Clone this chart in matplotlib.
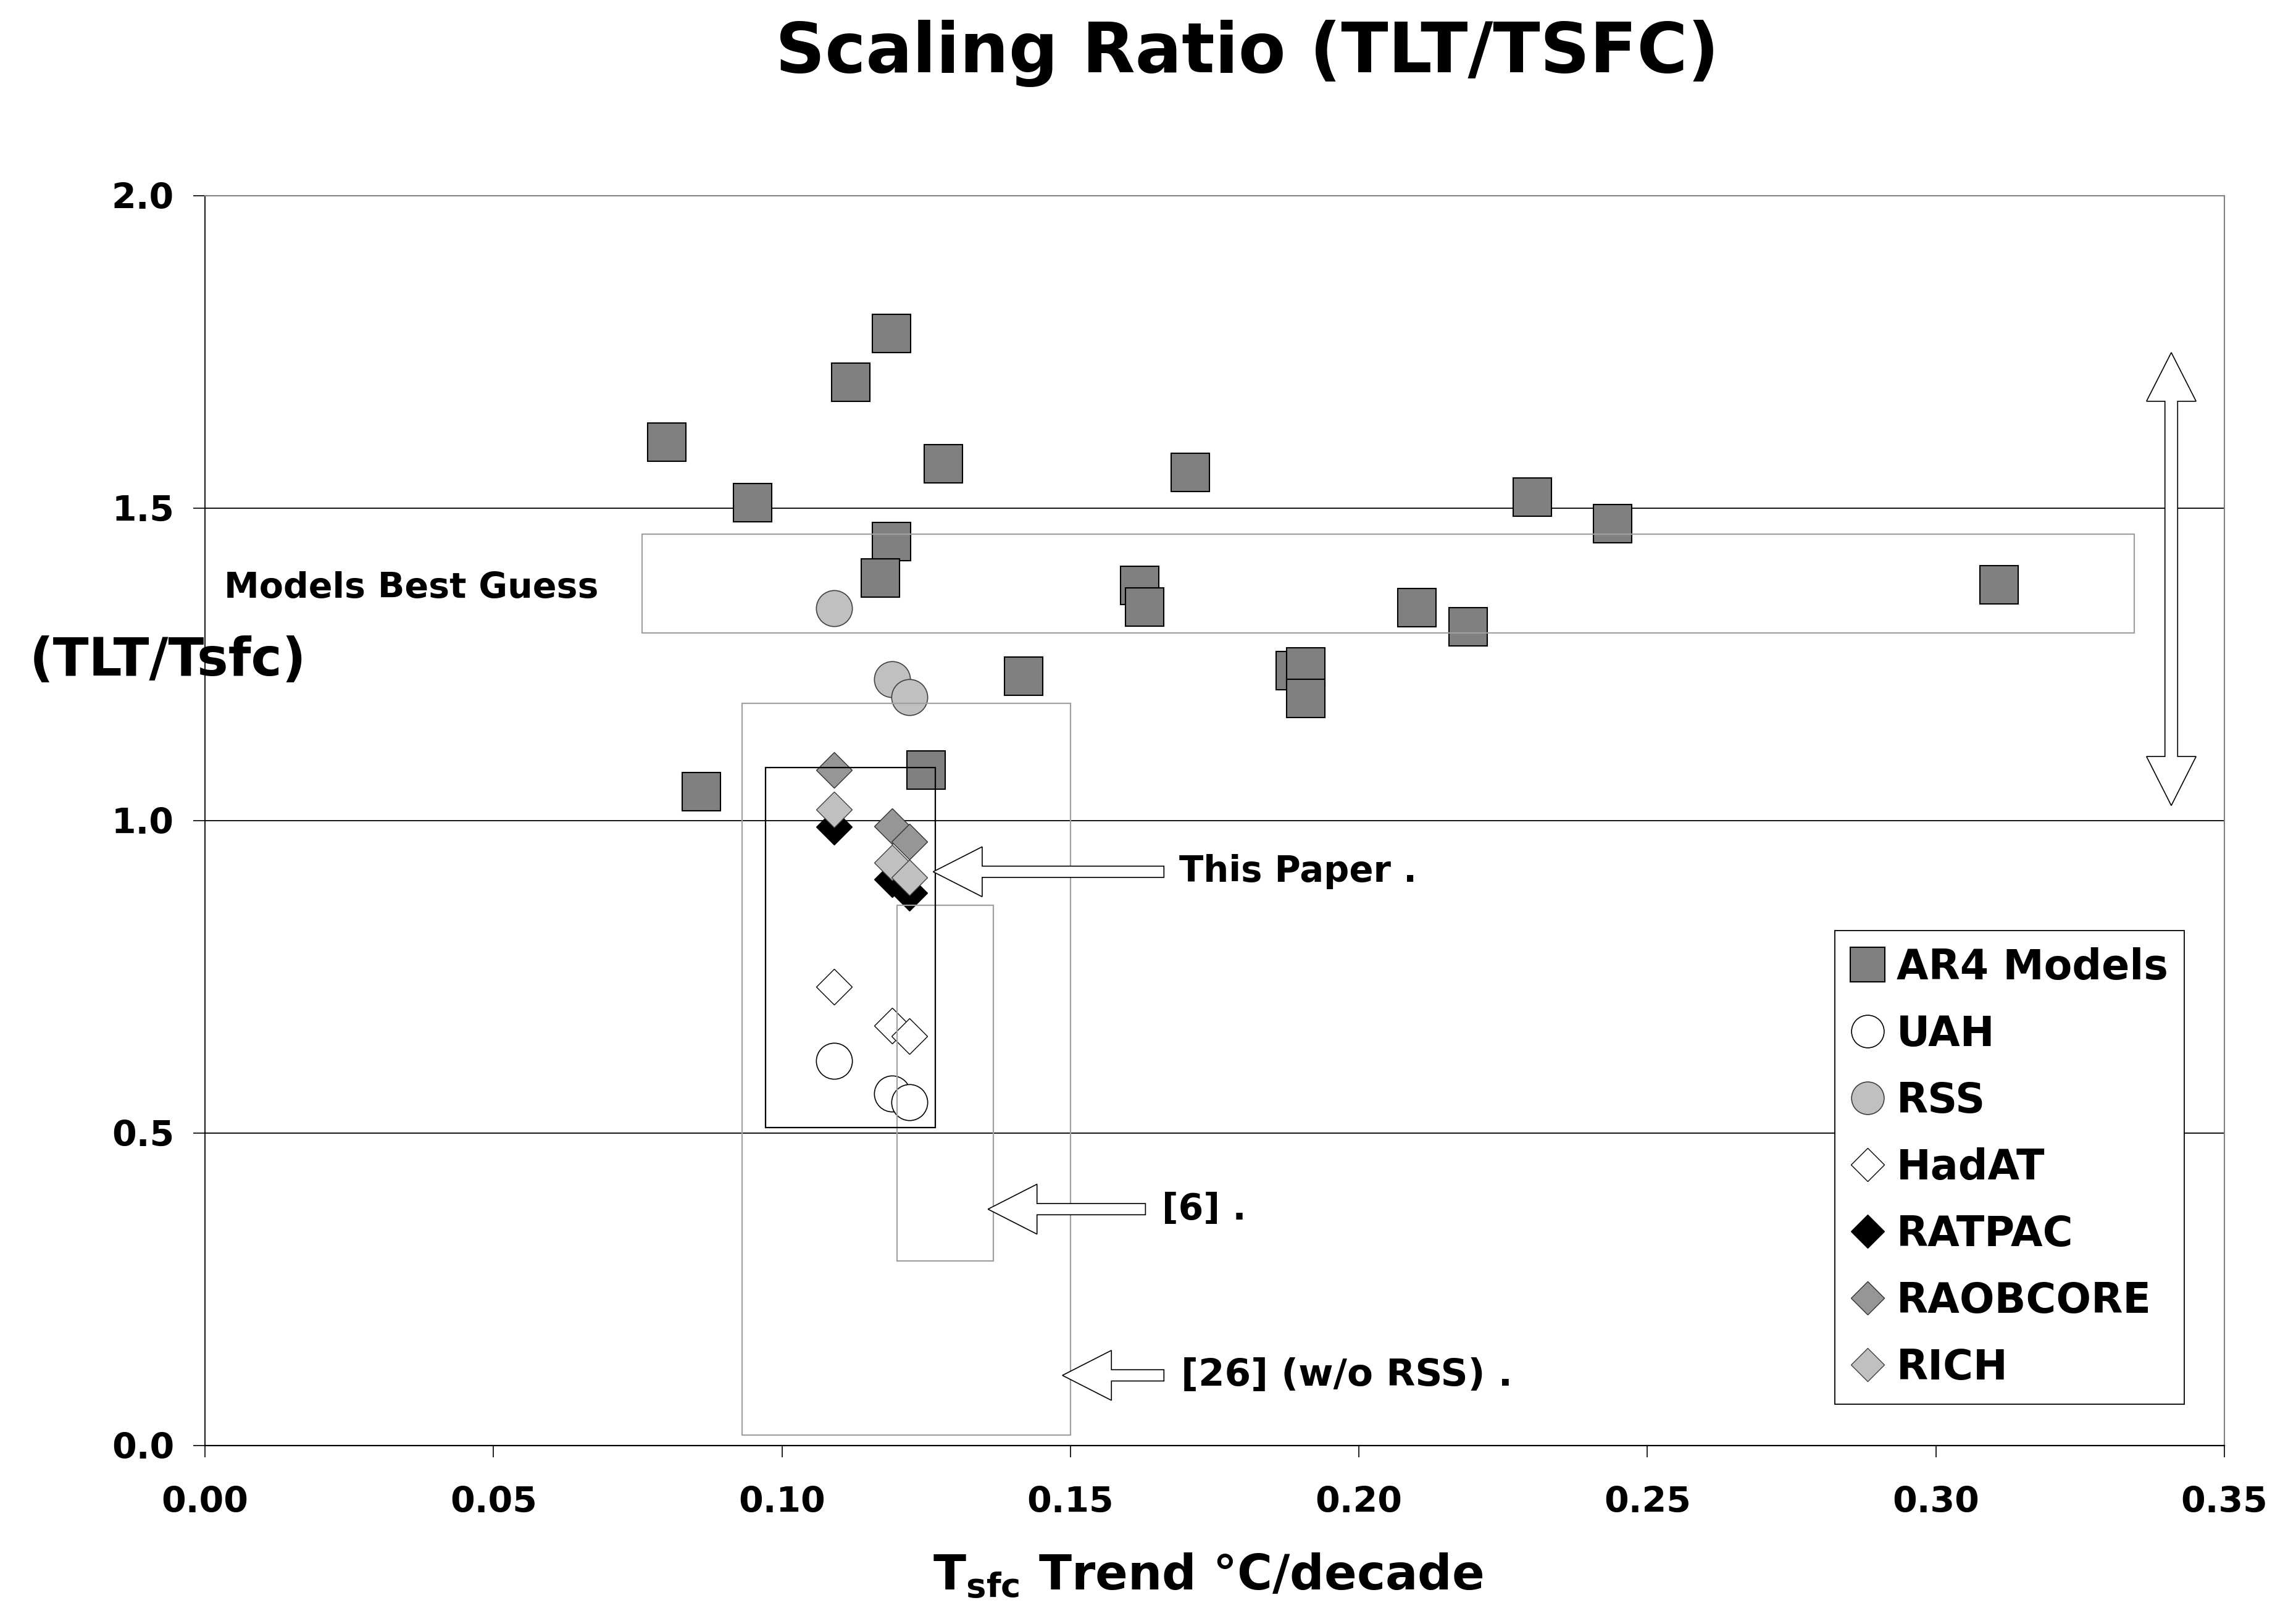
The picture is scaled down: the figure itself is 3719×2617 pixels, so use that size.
import matplotlib
matplotlib.use("Agg")
import matplotlib.pyplot as plt
from matplotlib.patches import Polygon, Rectangle
from matplotlib.lines import Line2D

plt.rcParams['font.family'] = ['DejaVu Sans']
plt.rcParams['font.weight'] = 'bold'

# ---------------- data ----------------
ar4_x = [0.1190, 0.1119, 0.0800, 0.0949, 0.1280, 0.1190, 0.1170, 0.1708, 0.2300,
         0.2440, 0.1620, 0.1629, 0.2100, 0.2189, 0.3110, 0.1419, 0.1890, 0.1908,
         0.1908, 0.1250, 0.0860]
ar4_y = [1.780, 1.701, 1.606, 1.509, 1.571, 1.446, 1.388, 1.557, 1.518,
         1.475, 1.376, 1.342, 1.341, 1.310, 1.377, 1.231, 1.240, 1.246,
         1.195, 1.081, 1.046]

obs_x = [0.1090, 0.1191, 0.1221]          # Tsfc trends used for observations
uah_y = [0.615, 0.563, 0.549]
rss_y = [1.340, 1.2265, 1.197]
hadat_y = [0.734, 0.672, 0.655]
ratpac_y = [0.990, 0.906, 0.884]
raobcore_y = [1.081, 0.991, 0.966]
rich_y = [1.018, 0.933, 0.909]

series_names = ["AR4 Models", "UAH", "RSS", "HadAT", "RATPAC", "RAOBCORE", "RICH"]

x_ticks = [0.00, 0.05, 0.10, 0.15, 0.20, 0.25, 0.30, 0.35]
y_ticks = [0.0, 0.5, 1.0, 1.5, 2.0]

# annotation boxes: (x0, y0, x1, y1)
box_models = (0.0757, 1.300, 0.3344, 1.458)
box_ref26 = (0.0931, 0.016, 0.1500, 1.188)
box_ref6 = (0.1199, 0.295, 0.1366, 0.864)
box_paper = (0.0971, 0.509, 0.1266, 1.085)

# left-pointing block arrows: (tip_x, y, head_base_x, head_half, shaft_half, tail_x)
arrow_paper = (0.1262, 0.918, 0.1347, 0.040, 0.009, 0.1662)
arrow_ref6 = (0.1357, 0.378, 0.1442, 0.040, 0.009, 0.1630)
arrow_ref26 = (0.1486, 0.112, 0.1571, 0.040, 0.009, 0.1662)
# vertical double arrow: (x, top_tip, top_base, bottom_base, bottom_tip, head_halfw, shaft_halfw)
arrow_range = (0.3408, 1.749, 1.671, 1.1025, 1.024, 0.0043, 0.0011)

# ---------------- figure ----------------
fig = plt.figure(figsize=(37.19, 26.17), dpi=100)
ax = fig.add_axes([0.0893, 0.1056, 0.8795, 0.7733])
ax.set_xlim(0, 0.35)
ax.set_ylim(0, 2.0)

for yv in y_ticks[1:-1]:
    ax.axhline(yv, color='black', lw=1.3, zorder=1)

sq = dict(marker='s', ms=45, mfc='#808080', mec='black', mew=1.5, ls='none', zorder=3)
ax.plot(ar4_x, ar4_y, label=series_names[0], **sq)
ax.plot(obs_x, uah_y, marker='o', ms=42, mfc='white', mec='black', mew=1.2, ls='none',
        zorder=3, label=series_names[1])
ax.plot(obs_x, rss_y, marker='o', ms=42, mfc='#C0C0C0', mec='#404040', mew=1.2, ls='none',
        zorder=3, label=series_names[2])
dia = dict(marker='D', ms=30, mew=1.0, ls='none', zorder=3)
ax.plot(obs_x, hadat_y, mfc='white', mec='black', label=series_names[3], **dia)
ax.plot(obs_x, ratpac_y, mfc='black', mec='black', label=series_names[4], **dia)
ax.plot(obs_x, raobcore_y, mfc='#969696', mec='#303030', label=series_names[5], **dia)
ax.plot(obs_x, rich_y, mfc='#C0C0C0', mec='#404040', label=series_names[6], **dia)


def rect(b, color, lw):
    ax.add_patch(Rectangle((b[0], b[1]), b[2] - b[0], b[3] - b[1], fill=False,
                           edgecolor=color, lw=lw, zorder=4))


rect(box_models, '#A0A0A0', 1.6)
rect(box_ref26, '#A0A0A0', 1.6)
rect(box_ref6, '#A0A0A0', 1.6)
rect(box_paper, 'black', 1.6)


def left_arrow(a):
    tx, y, hb, hh, sh, tail = a
    pts = [(tx, y), (hb, y + hh), (hb, y + sh), (tail, y + sh), (tail, y - sh),
           (hb, y - sh), (hb, y - hh)]
    ax.add_patch(Polygon(pts, closed=True, facecolor='white', edgecolor='black',
                         lw=1.2, zorder=5))


left_arrow(arrow_paper)
left_arrow(arrow_ref6)
left_arrow(arrow_ref26)

x, tt, tb, bb, bt, hw, sw = arrow_range
pts = [(x, tt), (x + hw, tb), (x + sw, tb), (x + sw, bb), (x + hw, bb), (x, bt),
       (x - hw, bb), (x - sw, bb), (x - sw, tb), (x - hw, tb)]
ax.add_patch(Polygon(pts, closed=True, facecolor='white', edgecolor='black', lw=1.2, zorder=5))

ax.text(0.1688, arrow_paper[1], "This Paper .", fontsize=41.5, fontweight='bold',
        va='center', ha='left', zorder=6)
ax.text(0.1659, arrow_ref6[1], "[6] .", fontsize=42, fontweight='bold',
        va='center', ha='left', zorder=6)
ax.text(0.1692, arrow_ref26[1], "[26] (w/o RSS) .", fontsize=44, fontweight='bold',
        va='center', ha='left', zorder=6)
ax.text(0.0033, 1.372, "Models Best Guess", fontsize=41, fontweight='bold',
        va='center', ha='left', zorder=6)

# axes styling
ax.spines['top'].set_color('#808080')
ax.spines['right'].set_color('#808080')
ax.spines['top'].set_linewidth(1.5)
ax.spines['right'].set_linewidth(1.5)
ax.spines['left'].set_color('black')
ax.spines['left'].set_linewidth(1.3)
ax.spines['bottom'].set_color('black')
ax.spines['bottom'].set_linewidth(1.6)

ax.set_xticks(x_ticks)
ax.set_xticklabels([f"{v:.2f}" for v in x_ticks])
ax.set_yticks(y_ticks)
ax.set_yticklabels([f"{v:.1f}" for v in y_ticks])
ax.tick_params(axis='x', direction='out', length=14, width=1.2, pad=33, labelsize=41)
ax.tick_params(axis='y', direction='out', length=14, width=1.2, pad=22, labelsize=41)
for lab in ax.get_xticklabels() + ax.get_yticklabels():
    lab.set_fontweight('bold')

fig.text(0.5262, 0.0245, r"$\mathbf{T_{sfc}}$ Trend °C/decade", fontsize=56,
         fontweight='bold', ha='center', va='center')
fig.text(0.0731, 0.591, "(TLT/Tsfc)", fontsize=61, fontweight='bold',
         ha='center', va='center')
fig.text(0.5432, 0.967, "Scaling Ratio (TLT/TSFC)", fontsize=80.5, fontweight='bold',
         ha='center', va='center')

# legend
handles = [
    Line2D([], [], marker='s', ms=40, mfc='#808080', mec='black', mew=1.5, ls='none'),
    Line2D([], [], marker='o', ms=38, mfc='white', mec='black', mew=1.2, ls='none'),
    Line2D([], [], marker='o', ms=38, mfc='#C0C0C0', mec='#404040', mew=1.2, ls='none'),
    Line2D([], [], marker='D', ms=27, mfc='white', mec='black', mew=1.0, ls='none'),
    Line2D([], [], marker='D', ms=27, mfc='black', mec='black', mew=1.0, ls='none'),
    Line2D([], [], marker='D', ms=27, mfc='#969696', mec='#303030', mew=1.0, ls='none'),
    Line2D([], [], marker='D', ms=27, mfc='#C0C0C0', mec='#404040', mew=1.0, ls='none'),
]
leg = ax.legend(handles, series_names, loc='upper left', bbox_to_anchor=(0.807, 0.412),
                prop={'size': 48, 'weight': 'bold'}, frameon=True, fancybox=False,
                edgecolor='black', framealpha=1, borderpad=0.4, labelspacing=0.63,
                handlelength=0.8, handletextpad=0.3, borderaxespad=0)
leg.get_frame().set_linewidth(1.3)
leg.set_zorder(7)

fig.savefig("out.png", dpi=100, facecolor='white')
